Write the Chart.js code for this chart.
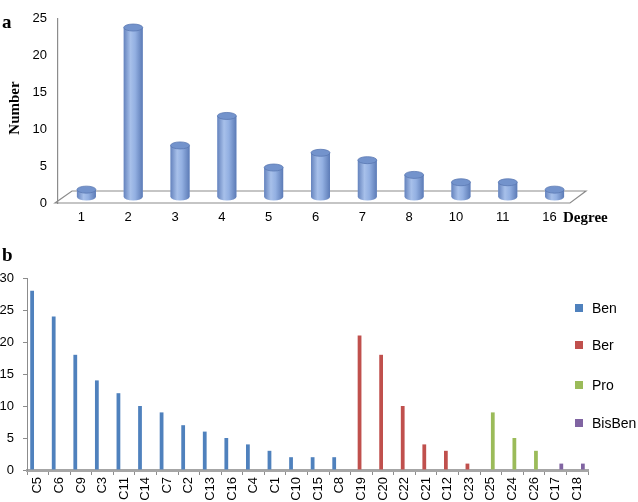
<!DOCTYPE html>
<html>
<head>
<meta charset="utf-8">
<script src="https://cdn.jsdelivr.net/npm/chart.js@4"></script>
<style>
  body { margin: 0; background: #fff; width: 638px; height: 502px; position: relative; overflow: hidden; }
  .panel { position: absolute; left: 0; width: 638px; }
  .lbl { position: absolute; font-family: "Liberation Serif", serif; font-weight: bold; color: #000; line-height: 1; white-space: nowrap; }
  .legend { position: absolute; left: 575px; font-family: "Liberation Sans", sans-serif; font-size: 14px; color: #000; }
  .legend div { position: absolute; left: 0; height: 16px; width: 70px; }
  .legend span.box { position: absolute; left: 0; top: 4px; width: 8px; height: 8px; }
  .legend span.txt { position: absolute; left: 17px; top: 0; line-height: 16px; }
</style>
</head>
<body>
<div class="panel" style="top:0;height:238px"><canvas id="chartA" width="638" height="238"></canvas></div>
<div class="panel" style="top:238px;height:264px"><canvas id="chartB" width="638" height="264"></canvas></div>

<div class="lbl" style="left:2px;top:12px;font-size:19px">a</div>
<div class="lbl" style="left:14px;top:108px;font-size:15px;transform:translate(-50%,-50%) rotate(-90deg)">Number</div>
<div class="lbl" style="left:563px;top:210px;font-size:15px">Degree</div>
<div class="lbl" style="left:2px;top:245px;font-size:19px">b</div>
<div class="legend" id="legend" style="top:0"></div>

<script>
// panel a: degree distribution
const degrees = ['1', '2', '3', '4', '5', '6', '7', '8', '10', '11', '16'];
const degreeCounts = [1, 23, 7, 11, 4, 6, 5, 3, 2, 2, 1];

// panel b: clusters by group
const groupNames = ['Ben', 'Ber', 'Pro', 'BisBen'];
const groupColors = ['#4f81bd', '#c0504d', '#9bbb59', '#8064a2'];
const benLabels = ['C5', 'C6', 'C9', 'C3', 'C11', 'C14', 'C7', 'C2', 'C13', 'C16', 'C4', 'C1', 'C10', 'C15', 'C8'];
const benValues = [28, 24, 18, 14, 12, 10, 9, 7, 6, 5, 4, 3, 2, 2, 2];
const berLabels = ['C19', 'C20', 'C22', 'C21', 'C12', 'C23'];
const berValues = [21, 18, 10, 4, 3, 1];
const proLabels = ['C25', 'C24', 'C26'];
const proValues = [9, 5, 3];
const bisLabels = ['C17', 'C18'];
const bisValues = [1, 1];

const tickFont = { family: 'Liberation Sans', size: 13 };
const axisGray = '#8c8c8c';

// fake 3D: floor + cylinders for panel a
const shift = { x: 5, y: -6 };
const cylinderPlugin = {
  id: 'cylinder',
  beforeDatasetsDraw(chart) {
    const { ctx, chartArea: a } = chart;
    ctx.save();
    ctx.strokeStyle = axisGray;
    ctx.lineWidth = 1.2;
    ctx.beginPath();
    ctx.moveTo(a.left - 3, a.bottom);
    ctx.lineTo(a.right - 3, a.bottom);
    ctx.lineTo(a.right + 13, a.bottom - 12);
    ctx.lineTo(a.left + 14, a.bottom - 12);
    ctx.closePath();
    ctx.stroke();
    ctx.restore();
    ctx.save();
    ctx.translate(shift.x, shift.y);
  },
  afterDatasetsDraw(chart) {
    const { ctx } = chart;
    chart.getDatasetMeta(0).data.forEach(el => {
      const { x, y, base, width } = el.getProps(['x', 'y', 'base', 'width'], true);
      const l = x - width / 2, r = x + width / 2, ry = 3.5;
      const g = ctx.createLinearGradient(l, 0, r, 0);
      g.addColorStop(0, '#6583bd');
      g.addColorStop(0.35, '#a7c0ea');
      g.addColorStop(0.6, '#93b0e2');
      g.addColorStop(1, '#5c7bb6');
      ctx.fillStyle = g;
      ctx.beginPath();
      ctx.moveTo(l, y);
      ctx.lineTo(l, base);
      ctx.ellipse(x, base, width / 2, ry, 0, Math.PI, 0, true);
      ctx.lineTo(r, y);
      ctx.closePath();
      ctx.fill();
      ctx.beginPath();
      ctx.ellipse(x, y, width / 2, ry, 0, 0, Math.PI * 2);
      ctx.fillStyle = '#7393cc';
      ctx.fill();
      ctx.strokeStyle = '#5b79b3';
      ctx.lineWidth = 0.8;
      ctx.stroke();
    });
    ctx.restore();
  }
};

new Chart(document.getElementById('chartA'), {
  type: 'bar',
  data: {
    labels: degrees,
    datasets: [{
      label: 'Number',
      data: degreeCounts,
      backgroundColor: '#8eaadb',
      barPercentage: 0.45,
      categoryPercentage: 0.9
    }]
  },
  options: {
    responsive: false,
    animation: false,
    layout: { padding: { top: 18, right: 65, left: 0, bottom: 0 } },
    plugins: { legend: { display: false }, tooltip: { enabled: false } },
    scales: {
      x: {
        grid: { display: false, drawTicks: false },
        border: { display: false },
        ticks: { font: tickFont, color: '#000', padding: 7, maxRotation: 0 },
        afterFit: s => { s.height = 35; }
      },
      y: {
        min: 0, max: 25,
        grid: { display: false, drawTicks: false },
        border: { display: true, color: axisGray, width: 1.2 },
        ticks: { stepSize: 5, font: tickFont, color: '#000', padding: 11 },
        afterFit: s => { s.width = 58; }
      }
    }
  },
  plugins: [cylinderPlugin]
});

// panel b: build categories and one dataset per group
const groups = [
  [benLabels, benValues], [berLabels, berValues], [proLabels, proValues], [bisLabels, bisValues]
];
const clusterLabels = groups.flatMap(g => g[0]);
const datasetsB = groups.map((g, gi) => {
  let offset = 0;
  for (let k = 0; k < gi; k++) offset += groups[k][0].length;
  const data = clusterLabels.map((_, i) => (i >= offset && i < offset + g[1].length) ? g[1][i - offset] : null);
  return {
    label: groupNames[gi],
    data: data,
    backgroundColor: groupColors[gi],
    categoryPercentage: 0.7,
    barPercentage: 1
  };
});

new Chart(document.getElementById('chartB'), {
  type: 'bar',
  data: { labels: clusterLabels, datasets: datasetsB },
  options: {
    responsive: false,
    animation: false,
    layout: { padding: { top: 40, right: 50, left: 0, bottom: 0 } },
    plugins: { legend: { display: false }, tooltip: { enabled: false } },
    scales: {
      x: {
        offset: true,
        grid: { offset: true, drawOnChartArea: false, drawTicks: true, tickLength: 5, color: axisGray },
        border: { display: true, color: '#a6a6a6', width: 3 },
        ticks: { font: tickFont, color: '#000', padding: 2, autoSkip: false, minRotation: 90, maxRotation: 90 },
        afterFit: s => { s.height = 32; }
      },
      y: {
        min: 0, max: 30,
        grid: { drawOnChartArea: false, drawTicks: true, tickLength: 4, color: axisGray },
        border: { display: true, color: axisGray, width: 1 },
        ticks: { stepSize: 5, font: tickFont, color: '#000', padding: 9 },
        afterFit: s => { s.width = 27; }
      }
    }
  }
});

// legend for panel b
const legendTops = [300, 337, 377, 415];
const legendEl = document.getElementById('legend');
groupNames.forEach((name, i) => {
  const item = document.createElement('div');
  item.style.top = legendTops[i] + 'px';
  item.innerHTML = '<span class="box" style="background:' + groupColors[i] + '"></span><span class="txt">' + name + '</span>';
  legendEl.appendChild(item);
});
</script>
</body>
</html>
